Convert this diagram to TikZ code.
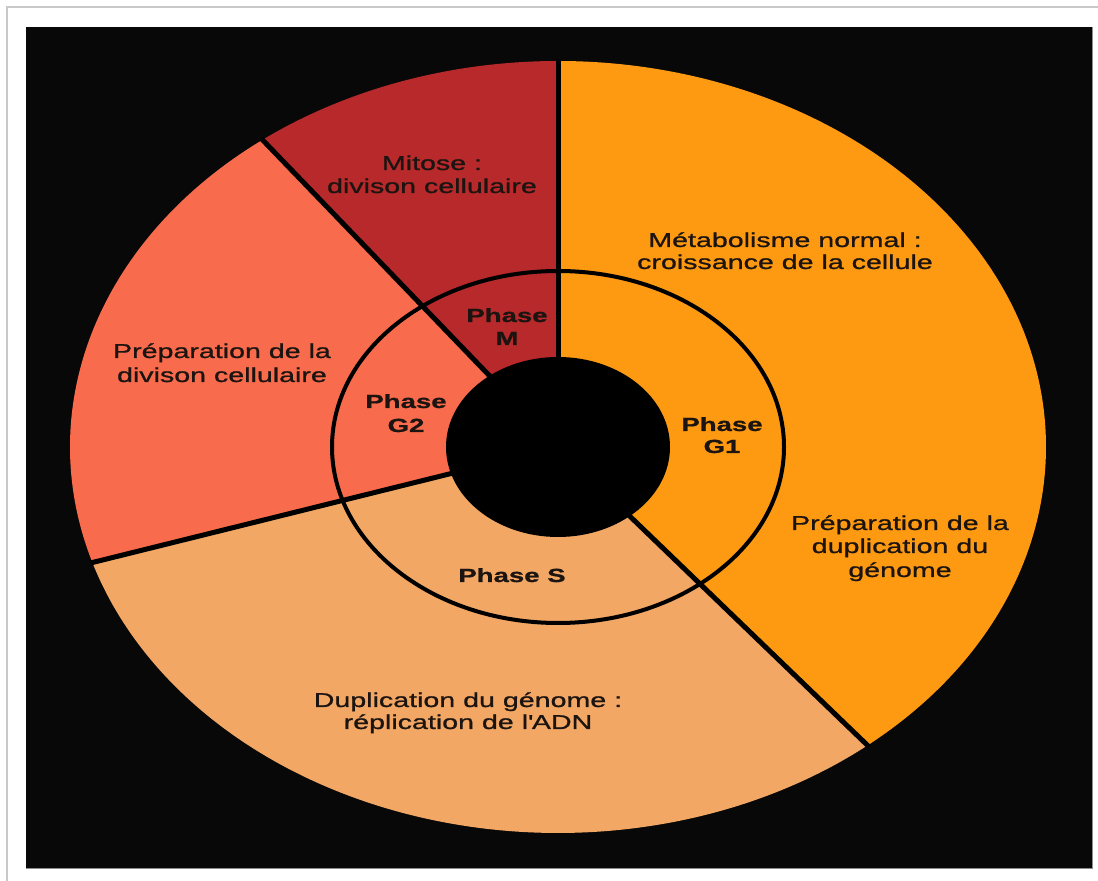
\documentclass[tikz,border=0pt]{standalone}
\usepackage{fontspec}
\setmainfont{Liberation Sans}
\newfontfamily\phfont[FakeStretch=1.45,FakeBold=1]{Liberation Sans Bold}
\newfontfamily\regfont[FakeStretch=1.43,FakeBold=1]{Liberation Sans}
\definecolor{bg}{HTML}{080808}
\definecolor{framegray}{HTML}{C8C8C8}
\definecolor{colM}{HTML}{B8292B}
\definecolor{colGtwo}{HTML}{F96B4D}
\definecolor{colS}{HTML}{F2A765}
\definecolor{colGone}{HTML}{FE9A12}
\definecolor{txtcol}{HTML}{1C1410}
\begin{document}
\begin{tikzpicture}[x=1pt,y=1pt,
  txt/.style={font=\regfont\fontsize{20}{23}\selectfont, text=txtcol, inner sep=0pt, anchor=base},
  ph/.style={font=\phfont\fontsize{19}{23}\selectfont, text=txtcol, inner sep=0pt, anchor=base},
  divider/.style={line width=5pt, draw=black},
  ringline/.style={line width=4pt, draw=black}]
\useasboundingbox (0,0) rectangle (1098,881);
\fill[white] (0,0) rectangle (1098,881);
\draw[framegray, line width=1.5pt] (7,-5) -- (7,874) -- (1105,874);
\fill[bg] (26,13) rectangle (1092,854);
\draw[framegray!70!black, line width=0.8pt] (26,13) -- (1092,13) -- (1092,854);
\coordinate (C) at (558,434);
% sectors
\fill[colM] (C) -- ++(90:488pt and 386pt) arc[start angle=90, end angle=127.3, x radius=488pt, y radius=386pt] -- cycle;
\fill[colGtwo] (C) -- ++(127.3:488pt and 386pt) arc[start angle=127.3, end angle=197.4, x radius=488pt, y radius=386pt] -- cycle;
\fill[colS] (C) -- ++(197.4:488pt and 386pt) arc[start angle=197.4, end angle=309.4, x radius=488pt, y radius=386pt] -- cycle;
\fill[colGone] (C) -- ++(309.4:488pt and 386pt) arc[start angle=309.4, end angle=450, x radius=488pt, y radius=386pt] -- cycle;
% inner ring
\draw[ringline] (C) ellipse[x radius=226pt, y radius=176pt];
% dividers
\draw[divider] (C) -- ++(90:490pt and 388pt);
\draw[divider] (C) -- ++(127.3:490pt and 388pt);
\draw[divider] (C) -- ++(197.4:490pt and 388pt);
\draw[divider] (C) -- ++(309.4:490pt and 388pt);
% center
\fill[black] (C) ellipse[x radius=112pt, y radius=90pt];
% outer labels
\node[txt] (mit1) at (432,711) {Mitose :};
\node[txt] (mit2) at (432,688) {divison cellulaire};
\node[txt] (met1) at (785,634) {Métabolisme normal :};
\node[txt] (met2) at (785,612) {croissance de la cellule};
\node[txt] (prd1) at (222,523) {Préparation de la};
\node[txt] (prd2) at (222,499) {divison cellulaire};
\node[txt] (prg1) at (900,351) {Préparation de la};
\node[txt] (prg2) at (900,328) {duplication du};
\node[txt] (prg3) at (900,304) {génome};
\node[txt] (dup1) at (468,174) {Duplication du génome :};
\node[txt] (dup2) at (468,152) {réplication de l\textquotesingle ADN};
% phase labels
\node[ph] (pm1) at (507,559) {Phase};
\node[ph] (pm2) at (507,536) {M};
\node[ph] (pg21) at (406,473) {Phase};
\node[ph] (pg22) at (406,449) {G2};
\node[ph] (pg11) at (722,450) {Phase};
\node[ph] (pg12) at (722,428) {G1};
\node[ph] (ps) at (512,299) {Phase S};
\end{tikzpicture}
\end{document}
